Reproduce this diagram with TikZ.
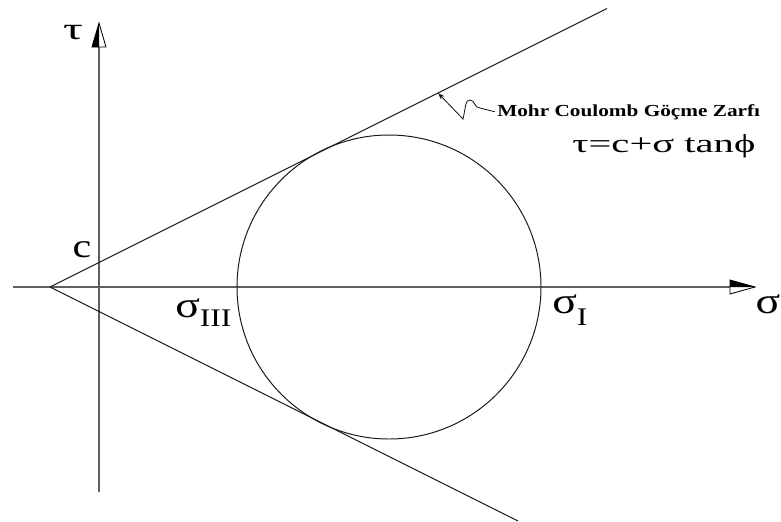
\documentclass[tikz,border=0pt]{standalone}
\usepackage{fontspec}
\setmainfont{Liberation Serif}
\newfontfamily\cadfont[FakeStretch=1.25]{Liberation Serif}
\newfontfamily\cadancho[FakeStretch=1.6]{Liberation Serif}
\newfontfamily\cadley[FakeStretch=1.56]{Liberation Serif}
\newfontfamily\cadtexto[FakeStretch=1.26, BoldFeatures={FakeStretch=1.26}]{Liberation Serif}
\usepackage{xcolor}
\definecolor{mohrgray}{RGB}{95, 95, 95}
\definecolor{mohrblack}{RGB}{25, 25, 25}
\usetikzlibrary{arrows.meta}

\begin{document}
\begin{tikzpicture}[x=0.025cm, y=-0.025cm, >=Stealth]
\useasboundingbox (0,0) rectangle (781,521);

% === Parámetros ===
\def\R{152}    % Radio del círculo de Mohr
\def\cx{389}   % Centro del círculo (sobre el eje sigma)
\def\ey{287}   % Altura del eje sigma

\tikzset{
    eje/.style={mohrgray, line width=0.8pt},
    envolvente/.style={mohrblack, line width=0.7pt},
    etiqueta/.style={inner sep=0pt, font=\cadfont\fontsize{26}{26}\selectfont},
    leader/.style={mohrblack, line width=0.6pt, -{Stealth[length=5pt, width=3.5pt]}}
}

% === Puntos de referencia ===
\coordinate (O) at (50,\ey);        % Vértice de la envolvente
\coordinate (xl) at (13,\ey);
\coordinate (xr) at (755,\ey);      % Punta de la flecha sigma
\coordinate (yb) at (99,492);
\coordinate (yt) at (99,23);        % Punta de la flecha tau
\coordinate (up) at (607,8.5);      % Fin de la recta superior
\coordinate (dn) at (518,521);      % Fin de la recta inferior
\coordinate (tip) at (438,93);      % Punta de la flecha de la nota

% === Ejes ===
\draw[eje] (xl) -- ([xshift=-25*0.025cm]xr);
\draw[eje] (yb) -- ([yshift=-24*0.025cm]yt);

% Flechas de los ejes (mitad negra, mitad blanca)
\fill[black] (yt) -- ++(-7,24) -- ++(7,0) -- cycle;
\draw[black, line width=0.6pt] (yt) -- ++(-7,24) -- ++(14,0) -- cycle;
\fill[black] (xr) -- ++(-25,-7) -- ++(0,7) -- cycle;
\draw[black, line width=0.6pt] (xr) -- ++(-25,-7) -- ++(0,14) -- cycle;

% === Envolvente de Mohr-Coulomb ===
\draw[envolvente] (O) -- (up);
\draw[envolvente] (O) -- (dn);

% === Círculo de Mohr ===
\draw[envolvente] (\cx,\ey) circle (\R);

% === Etiquetas ===
\node[etiqueta, font=\cadancho\fontsize{22}{22}\selectfont] (tau) at (73,33) {τ};
\node[etiqueta] (sig) at (768,304) {σ};
\node[etiqueta, font=\cadfont\fontsize{24}{24}\selectfont] (c) at (82,250) {c};
\node[etiqueta, anchor=base west] (s3) at (175,317)
    {σ\raisebox{-6.5pt}{\fontsize{18}{18}\selectfont III}};
\node[etiqueta, anchor=base west] (s1) at (552,313)
    {σ\raisebox{-9pt}{\fontsize{18}{18}\selectfont I}};

% Nota de la envolvente
\node[inner sep=0pt, anchor=base west, font=\cadtexto\bfseries\fontsize{12}{12}\selectfont]
    (mohr) at (497,116) {Mohr Coulomb Göçme Zarfı};
\node[inner sep=0pt, anchor=base west, font=\cadley\fontsize{18.5}{18.5}\selectfont]
    (ley) at (572,152) {τ=c+σ tanϕ};

\draw[leader] ([xshift=-1.5pt]mohr.west) -- (480,108)
    .. controls (474,108) and (475,100) .. (470,100)
    .. controls (465,100) and (466,106) .. (463,119) -- (tip);

\end{tikzpicture}
\end{document}
